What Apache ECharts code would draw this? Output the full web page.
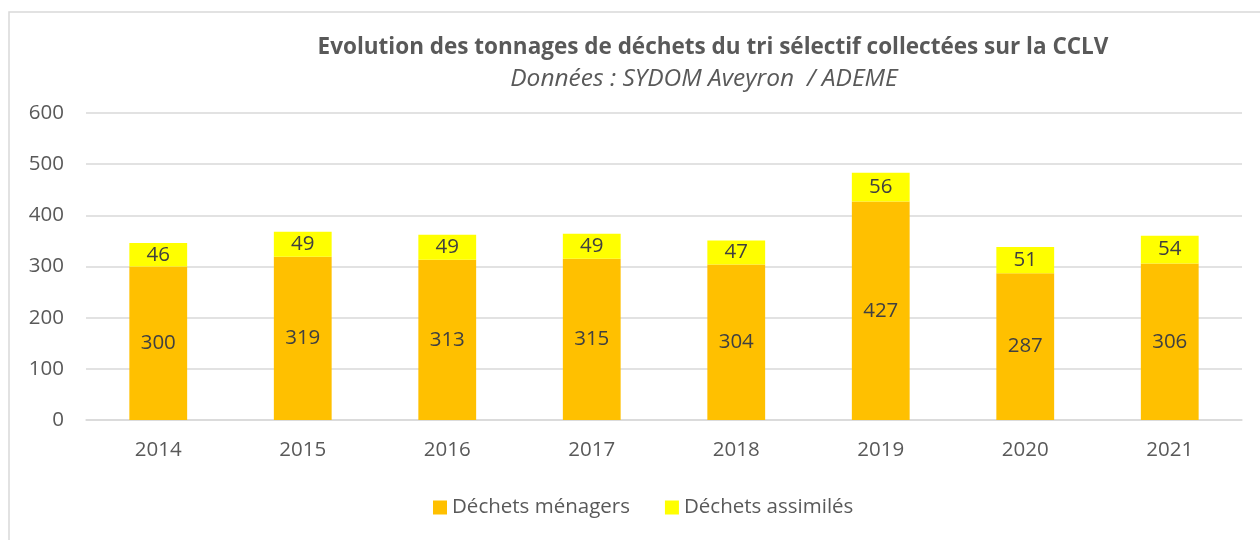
<!DOCTYPE html>
<html>
<head>
<meta charset="utf-8">
<script src="https://cdn.jsdelivr.net/npm/echarts@6/dist/echarts.min.js"></script>
<style>
  html, body { margin: 0; padding: 0; background: #fff; }
  #chart { width: 1260px; height: 540px; }
</style>
</head>
<body>
<div id="chart"></div>
<script>
const years = ["2014", "2015", "2016", "2017", "2018", "2019", "2020", "2021"];
const menagers = [300, 319, 313, 315, 304, 427, 287, 306];
const assimiles = [46, 49, 49, 49, 47, 56, 51, 54];
const yTicks = { min: 0, max: 600, interval: 100 };

const font = "'Open Sans', sans-serif";
const chart = echarts.init(document.getElementById("chart"));

const barLabel = {
  show: true,
  position: "inside",
  color: "#404040",
  fontFamily: font,
  fontSize: 20.5,
};

chart.setOption({
  animation: false,
  graphic: [
    {
      type: "rect",
      shape: { x: 9, y: 12, width: 1300, height: 600 },
      style: { fill: "none", stroke: "#d9d9d9", lineWidth: 1.5 },
      silent: true,
    },
  ],
  title: [
    {
      text: "Evolution des tonnages de déchets du tri sélectif collectées sur la CCLV",
      left: 713,
      textAlign: "center",
      top: 36,
      padding: 0,
      textStyle: { color: "#595959", fontFamily: font, fontSize: 22.5, fontWeight: "bold" },
    },
    {
      text: "Données : SYDOM Aveyron  / ADEME",
      left: 704,
      textAlign: "center",
      top: 67,
      padding: 0,
      textStyle: { color: "#595959", fontFamily: font, fontSize: 24.5, fontStyle: "italic", fontWeight: "normal" },
    },
  ],
  legend: {
    top: 497,
    left: 433,
    padding: 0,
    itemWidth: 14,
    itemHeight: 14,
    itemGap: 35,
    icon: "rect",
    textStyle: { color: "#595959", fontFamily: font, fontSize: 20.5 },
    data: ["Déchets ménagers", "Déchets assimilés"],
  },
  grid: { left: 86, right: 18, top: 113, bottom: 120, outerBoundsMode: "none" },
  xAxis: {
    type: "category",
    data: years,
    axisLine: { lineStyle: { color: "#d9d9d9", width: 1.5 } },
    axisTick: { show: false },
    axisLabel: { color: "#595959", fontFamily: font, fontSize: 20.5, margin: 20 },
  },
  yAxis: {
    type: "value",
    min: yTicks.min,
    max: yTicks.max,
    interval: yTicks.interval,
    axisLine: { show: false },
    axisTick: { show: false },
    splitLine: { lineStyle: { color: "#d9d9d9", width: 1.5 } },
    axisLabel: { color: "#595959", fontFamily: font, fontSize: 20.5, margin: 22 },
  },
  series: [
    {
      name: "Déchets ménagers",
      type: "bar",
      stack: "total",
      data: menagers,
      barWidth: "40%",
      itemStyle: { color: "#FFC000" },
      label: barLabel,
    },
    {
      name: "Déchets assimilés",
      type: "bar",
      stack: "total",
      data: assimiles,
      barWidth: "40%",
      itemStyle: { color: "#FFFF00" },
      label: barLabel,
    },
  ],
});
</script>
</body>
</html>
